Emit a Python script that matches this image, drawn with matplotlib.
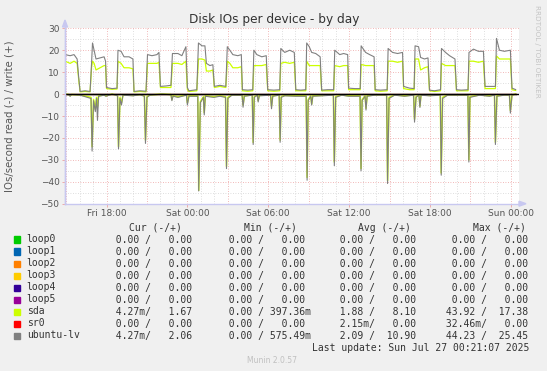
"""
Munin style chart: Disk IOs per device - by day
"""

import matplotlib
matplotlib.use("Agg")
import matplotlib.pyplot as plt
from matplotlib.patches import Rectangle, Polygon

W, H = 547, 371

# write (+) samples, hours after Fri 18:00
write_hours = [
    -3.07, -2.70, -2.41, -2.18, -2.07,
    -1.96, -1.59, -1.22,
    -1.11, -1.04, -0.92, -0.78, -0.48, -0.18, -0.07,
    0.00, 0.41, 0.78,
    0.85, 1.08, 1.30, 1.67, 1.96,
    2.04, 2.48, 2.93,
    3.04, 3.37, 3.74, 3.89,
    4.00, 4.41, 4.78,
    4.89, 5.30, 5.59, 5.89,
    6.00, 6.11, 6.70,
    6.82, 7.08, 7.30, 7.41, 7.67, 7.89,
    8.00, 8.41, 8.85,
    8.96, 9.15, 9.37, 9.74, 10.00,
    10.08, 10.48, 10.85,
    10.93, 11.15, 11.52, 11.85,
    11.96, 12.41, 12.85,
    12.93, 13.22, 13.59, 13.93,
    14.04, 14.41, 14.78,
    14.85, 15.04, 15.22, 15.52, 15.85,
    15.96, 16.41, 16.85,
    16.93, 17.30, 17.59, 17.89,
    17.96, 18.41, 18.82,
    18.89, 19.22, 19.52, 19.85,
    19.93, 20.33, 20.82,
    20.89, 21.22, 21.59, 21.96,
    22.04, 22.48, 22.82,
    22.89, 23.15, 23.30, 23.59, 23.85,
    23.96, 24.33, 24.78,
    24.85, 25.15, 25.45, 25.85,
    25.96, 26.33, 26.82,
    26.89, 27.22, 27.59, 27.96,
    28.08, 28.41, 28.85,
    28.93, 29.15, 29.52, 29.96,
    30.08, 30.35,
]
lv_write = [
    18, 17.5, 18, 16, 8,
    1.2, 1.5, 1.2,
    14, 23.3, 20, 16, 16.5, 17, 15,
    3, 2.5, 2.7,
    20, 19.5, 17, 17, 16,
    1.2, 1.5, 1.3,
    18, 17.5, 18, 19,
    3.5, 3.7, 4,
    18.5, 18.5, 17.5, 21.6,
    3, 1.5, 2,
    23.3, 22, 22, 14, 13, 13.4,
    3.5, 4, 3.5,
    21.6, 20, 18, 17.5, 18,
    2, 1.8, 2,
    20, 18, 17, 17.5,
    2, 1.8, 2,
    20.8, 19, 20, 19,
    2, 1.8, 2,
    23.3, 21.6, 19, 18.5, 17,
    1.8, 2, 2,
    20, 18, 18.5, 18,
    2.7, 2.5, 2.5,
    22, 19, 18, 17,
    2, 1.8, 2,
    20.8, 19, 18.5, 19,
    3.5, 2.7, 2.5,
    22, 21.6, 16.7, 16, 16.5,
    1.8, 1.5, 2,
    20.8, 19, 17.5, 16,
    2, 1.8, 2,
    19, 20.5, 19.5, 19.5,
    3.5, 3.5, 3.5,
    25.4, 20, 19.5, 20,
    2.7, 2.06,
]
sda_write = [
    15, 14, 15, 14, 7,
    1, 1.2, 1,
    12, 15, 14, 11, 12, 13, 13,
    2.5, 2.2, 2.3,
    15, 14, 12, 12, 11.5,
    1, 1.2, 1,
    14, 14, 14, 14.5,
    3, 3, 3,
    14, 14, 13.5, 15,
    2, 1.2, 1.5,
    16, 16, 15.5, 10.5, 10.5, 11,
    3, 3.5, 3,
    15, 14, 12, 12, 12.5,
    1.5, 1.3, 1.5,
    13, 13, 13, 13.5,
    1.5, 1.3, 1.5,
    14, 14.5, 14, 14.5,
    1.5, 1.5, 1.5,
    15, 13, 13, 13, 13,
    1.5, 1.5, 1.5,
    13, 12.5, 13, 13,
    2, 2, 2,
    13.5, 13, 13, 13,
    1.5, 1.3, 1.5,
    15, 15, 14.5, 15,
    2.5, 2, 2,
    16, 16, 11, 12, 12.5,
    1.5, 1.2, 1.5,
    14, 13, 13, 13,
    1.5, 1.5, 1.5,
    15, 15, 14.5, 15,
    2.5, 2.5, 2.5,
    17.4, 16, 16, 16,
    2, 1.67,
]

# read (-) samples, hours after Fri 18:00
read_hours = [
    -3.07, -2.81, -2.70, -2.59, -1.96,
    -1.15, -1.07, -0.96, -0.83, -0.74, -0.67, -0.59, -0.18,
    -0.04, 0.41,
    0.82, 0.89, 1.00, 1.11, 1.22, 1.96,
    2.48, 2.81, 2.89, 3.00, 3.22, 4.11,
    4.78, 4.85, 4.93, 5.30,
    5.93, 6.00, 6.11, 6.77, 6.84, 6.96, 7.19, 7.25, 7.33, 7.96,
    8.41, 8.83, 8.90, 9.00, 9.30,
    10.06, 10.13, 10.22, 10.81, 10.88, 10.96, 11.19, 11.25, 11.33,
    12.17, 12.24, 12.33, 12.81, 12.88, 12.96, 13.22,
    14.04, 14.81, 14.88, 14.96, 15.15, 15.22, 15.30, 15.96,
    16.83, 16.90, 17.00, 17.45,
    17.96, 18.41, 18.81, 18.88, 18.96, 19.18, 19.25, 19.33, 19.89,
    20.78, 20.85, 20.96, 21.37, 22.11,
    22.78, 22.85, 22.96, 23.18, 23.25, 23.33, 23.96,
    24.76, 24.83, 24.93, 25.30, 25.96,
    26.81, 26.88, 26.96, 27.67, 28.41,
    28.78, 28.85, 28.96, 29.52, 29.89, 29.96, 30.08, 30.35,
]
lv_read = [
    0, -0.3, -1, -0.2, -0.5,
    -2, -26, -3, -8, -2, -12, -1, -0.5,
    -1, 0,
    -0.8, -25, -2, -5, -0.5, -0.8,
    -0.3, -1, -22.5, -1.5, -0.5, 0,
    -0.3, -3, -1, -1.5,
    -0.5, -5, -1, -1, -44.2, -4, -1.5, -9.5, -1, -1.5,
    -1, -1.5, -34, -2, -0.5,
    -0.5, -6, -1, -0.5, -23, -1.5, -0.5, -3.6, -0.8,
    -0.5, -6.7, -1, -0.5, -22, -1.5, -0.8,
    -1, -1, -39.3, -3, -1, -5, -1, -0.8,
    -0.5, -32.7, -1.5, -0.5,
    -1, -1, -1, -35, -3, -1, -7.3, -1, -0.5,
    -0.5, -40.8, -2, -0.5, -1,
    -0.5, -12.8, -1.5, -0.5, -6.1, -0.5, -0.8,
    -0.5, -37, -2, -0.5, -0.5,
    -0.5, -31, -1.5, -0.5, -1,
    -0.5, -23, -1, -0.5, -0.5, -8.7, -0.5, 0,
]
sda_read = [
    0, -0.2, -0.8, -0.2, -0.4,
    -1.5, -24, -2.5, -7, -1.5, -6, -0.8, -0.4,
    -0.8, 0,
    -0.6, -24, -1.5, -4, -0.4, -0.6,
    -0.2, -0.8, -21, -1.2, -0.4, 0,
    -0.2, -2.5, -0.8, -1.2,
    -0.4, -4, -0.8, -0.8, -43.9, -3.5, -1.2, -8.5, -0.8, -1.2,
    -0.8, -1.2, -33, -1.5, -0.4,
    -0.4, -5, -0.8, -0.4, -22, -1.2, -0.4, -3, -0.6,
    -0.4, -5.5, -0.8, -0.4, -21, -1.2, -0.6,
    -0.8, -0.8, -38, -2.5, -0.8, -4.5, -0.8, -0.6,
    -0.4, -31, -1.2, -0.4,
    -0.8, -0.8, -0.8, -34, -2.5, -0.8, -6.5, -0.8, -0.4,
    -0.4, -39.5, -1.5, -0.4, -0.8,
    -0.4, -11.5, -1.2, -0.4, -5.5, -0.4, -0.6,
    -0.4, -36, -1.5, -0.4, -0.4,
    -0.4, -30, -1.2, -0.4, -0.8,
    -0.4, -22, -0.8, -0.4, -0.4, -7.5, -0.4, 0,
]

# idle devices stay on zero for the whole range
zero_hours = [-3.07, 30.35]
zero_values = [0, 0]

x_ticks = [0, 6, 12, 18, 24, 30]
x_labels = ["Fri 18:00", "Sat 00:00", "Sat 06:00", "Sat 12:00", "Sat 18:00", "Sun 00:00"]
y_ticks = [-50, -40, -30, -20, -10, 0, 10, 20, 30]

# legend table
devices = ["loop0", "loop1", "loop2", "loop3", "loop4", "loop5", "sda", "sr0", "ubuntu-lv"]
colors = ["#00CC00", "#0066B3", "#FF8000", "#FFCC00", "#330099",
          "#990099", "#CCFF00", "#FF0000", "#808080"]
cur_read = ["0.00"] * 6 + ["4.27m", "0.00", "4.27m"]
cur_write = ["0.00"] * 6 + ["1.67", "0.00", "2.06"]
min_read = ["0.00"] * 9
min_write = ["0.00"] * 6 + ["397.36m", "0.00", "575.49m"]
avg_read = ["0.00"] * 6 + ["1.88", "2.15m", "2.09"]
avg_write = ["0.00"] * 6 + ["8.10", "0.00", "10.90"]
max_read = ["0.00"] * 6 + ["43.92", "32.46m", "44.23"]
max_write = ["0.00"] * 6 + ["17.38", "0.00", "25.45"]


def fx(x):
    return x / W


def fy(y):
    return 1 - y / H


def field(v, width):
    """right align a value, keeping the unit letter (or a blank) after it"""
    if v.endswith("m"):
        return v[:-1].rjust(width) + "m"
    return v.rjust(width) + " "


def main():
    fig = plt.figure(figsize=(W / 100, H / 100), dpi=100, facecolor="#F0F0F0")

    # plot area in pixels: x 65..519, y 28.3..203.7
    ax = fig.add_axes([fx(65), fy(203.7), fx(519) - fx(65), fy(28.3) - fy(203.7)])
    ax.set_facecolor("white")
    ax.set_xlim(-3.08, 30.6)
    ax.set_ylim(-50, 30)

    # grid: grey every hour / 5 units, red every 3 hours / 10 units
    for h in range(-3, 31):
        if h % 3 == 0:
            ax.axvline(h, color="#EDA0A0", lw=0.6, dashes=(1, 2), zorder=1)
        else:
            ax.axvline(h, color="#D4D4D4", lw=0.6, dashes=(1, 2), zorder=1)
    for v in range(-45, 30, 5):
        if v % 10 == 0:
            ax.axhline(v, color="#EDA0A0", lw=0.6, dashes=(1, 2), zorder=1)
        else:
            ax.axhline(v, color="#D4D4D4", lw=0.6, dashes=(1, 2), zorder=1)
    ax.axhline(30, color="#EDA0A0", lw=0.6, dashes=(1, 2), zorder=1)

    # data lines, in munin order
    for c in colors[:6]:
        ax.plot(zero_hours, zero_values, color=c, lw=0.8, zorder=2)
    ax.plot(write_hours, sda_write, color=colors[6], lw=0.9, zorder=3)
    ax.plot(read_hours, sda_read, color=colors[6], lw=1.1, zorder=3)
    ax.plot(zero_hours, zero_values, color=colors[7], lw=0.8, zorder=3)
    ax.plot(write_hours, lv_write, color=colors[8], lw=0.8, zorder=4)
    ax.plot(read_hours, lv_read, color=colors[8], lw=0.8, zorder=4)
    ax.axhline(0, color="black", lw=1.0, zorder=5)

    # axes and ticks
    for s in ["top", "right"]:
        ax.spines[s].set_visible(False)
    for s in ["left", "bottom"]:
        ax.spines[s].set_color("#C8C8F0")
        ax.spines[s].set_linewidth(1.0)
    ax.set_xticks(x_ticks)
    ax.set_xticklabels(x_labels)
    ax.set_yticks(y_ticks)
    ax.tick_params(axis="both", length=2, width=0.6, color="#EDA0A0",
                   labelsize=6.5, labelcolor="#555555", pad=2)

    # axis arrows
    fig.add_artist(Polygon([[fx(62.5), fy(27)], [fx(67.5), fy(27)], [fx(65), fy(20)]],
                           closed=True, color="#C8C8F0", transform=fig.transFigure))
    fig.add_artist(plt.Line2D([fx(65), fx(65)], [fy(203.7), fy(27)], color="#C8C8F0",
                              lw=1.0, transform=fig.transFigure))
    fig.add_artist(Polygon([[fx(519), fy(201.2)], [fx(519), fy(206.2)], [fx(526), fy(203.7)]],
                           closed=True, color="#C8C8F0", transform=fig.transFigure))

    # titles
    fig.text(fx(274), fy(19), "Disk IOs per device - by day", ha="center", va="center",
             fontsize=8.7, color="#333333")
    fig.text(fx(10), fy(116), "IOs/second read (-) / write (+)", rotation=90,
             ha="center", va="center", fontsize=7.3, color="#555555")
    fig.text(fx(537), fy(5), "RRDTOOL / TOBI OETIKER", rotation=270,
             ha="center", va="top", fontsize=5.2, color="#C4C4C4")

    # legend table
    mono = dict(family="DejaVu Sans Mono", fontsize=7, color="#333333", va="center")
    for hx, head in zip([129, 244, 357.7, 473], ["Cur (-/+)", "Min (-/+)", "Avg (-/+)", "Max (-/+)"]):
        fig.text(fx(hx), fy(227.7), head, ha="left", **mono)
    col_x = [104.3, 216.6, 327.6, 440.0]
    for i, name in enumerate(devices):
        y = 239.5 + 12.0 * i
        fig.add_artist(Rectangle((fx(14), fy(y + 3)), fx(6), fy(y - 3) - fy(y + 3),
                                 color=colors[i], transform=fig.transFigure))
        fig.text(fx(26.7), fy(y), name, ha="left", **mono)
        pairs = [(cur_read[i], cur_write[i]), (min_read[i], min_write[i]),
                 (avg_read[i], avg_write[i]), (max_read[i], max_write[i])]
        for cx, (r, w) in zip(col_x, pairs):
            fig.text(fx(cx), fy(y), field(r, 6) + "/" + field(w, 7), ha="left", **mono)
    fig.text(fx(311.7), fy(347.7), "Last update: Sun Jul 27 00:21:07 2025", ha="left", **mono)
    fig.text(fx(272), fy(360.5), "Munin 2.0.57", ha="center", va="center",
             fontsize=5.5, color="#C0C0C0")

    fig.savefig("out.png", dpi=100, facecolor=fig.get_facecolor())


if __name__ == "__main__":
    main()
